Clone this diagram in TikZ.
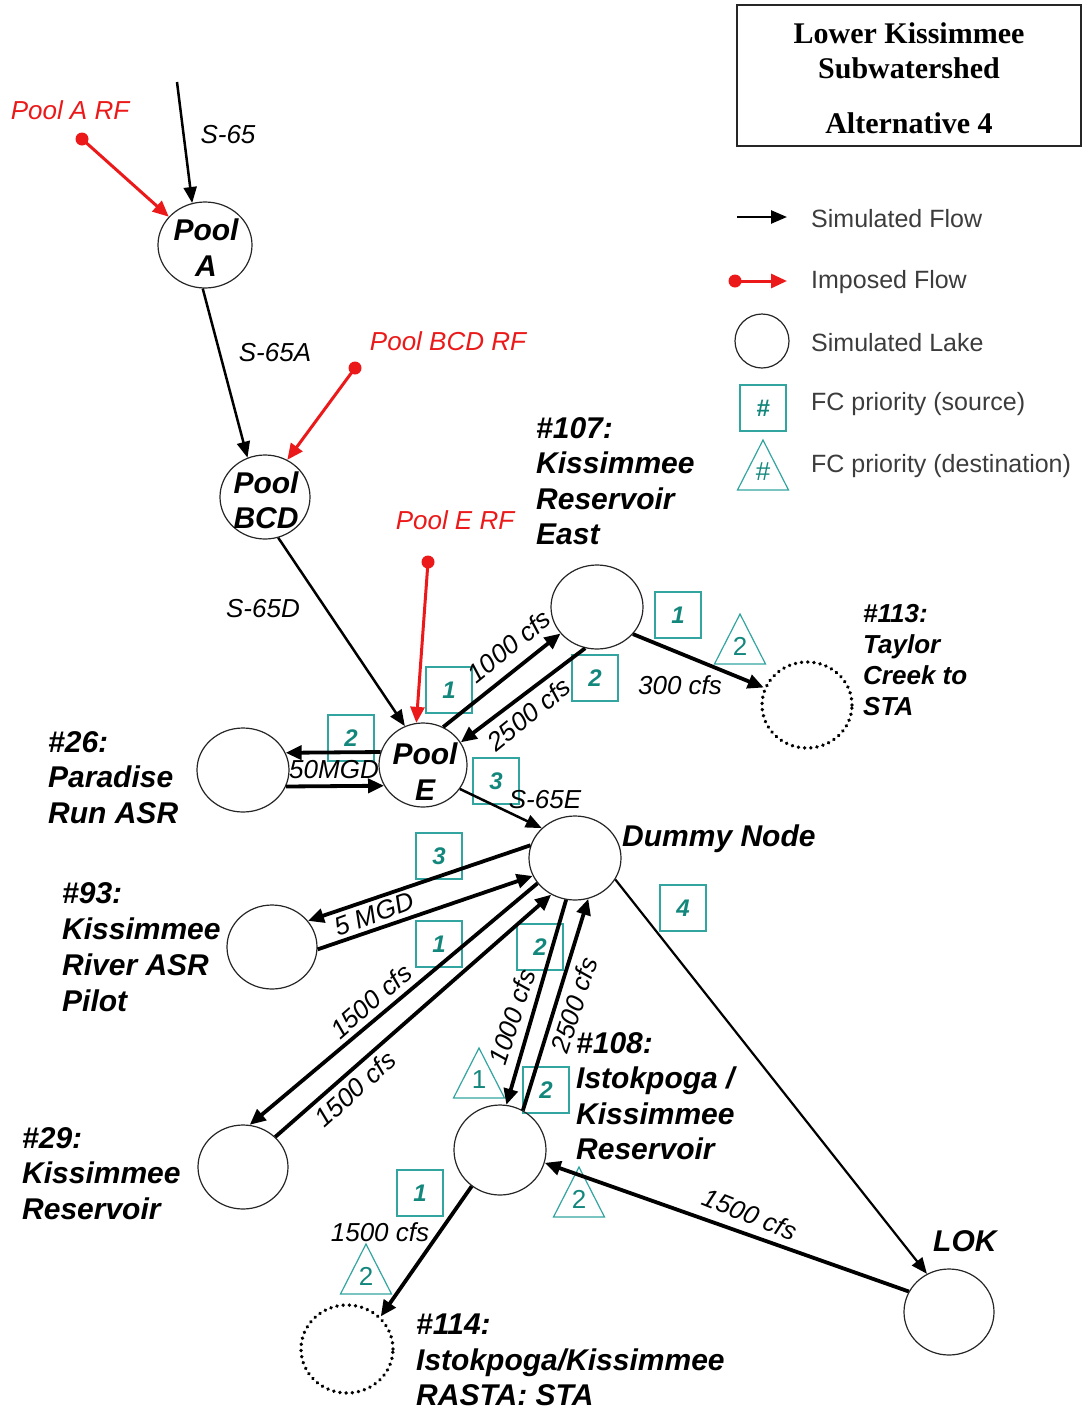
\documentclass[tikz,border=0pt]{standalone}
\usepackage{fontspec}
\setmainfont{Liberation Sans}
\newfontfamily\titlefont{Liberation Serif}
\usetikzlibrary{arrows.meta,shapes.geometric,calc}
\definecolor{tealb}{RGB}{50,165,160}
\definecolor{tealt}{RGB}{20,135,125}
\definecolor{impred}{RGB}{235,25,25}
\definecolor{leggray}{RGB}{60,60,60}
\newcommand\fctri[3]{%
  \coordinate (#1) at (#2);
  \draw[tri] ($(#1)+(0,-25)$) -- ($(#1)+(25.5,25)$) -- ($(#1)+(-25.5,25)$) -- cycle;
  \node[tritext] (#1t) at ($(#1)+(0,7)$) {#3};
}
\begin{document}
\begin{tikzpicture}[x=1pt,y=-1pt,
  lake/.style={ellipse, draw=black!85, line width=1.2pt, inner sep=0pt, minimum width=92pt, minimum height=86pt},
  stalake/.style={lake, draw=black, line width=3.8pt, dash pattern=on 0.01pt off 6.2pt, line cap=round},
  simflow/.style={draw, line width=2.5pt, -{Triangle[length=16pt,width=13pt]}},
  bigflow/.style={draw, line width=3.8pt, -{Triangle[length=16pt,width=14pt]}},
  impflow/.style={draw=impred, line width=3pt, -{Triangle[length=16pt,width=14pt]}},
  fcbox/.style={draw=tealb, line width=1.2pt, minimum width=46pt, minimum height=46pt, inner sep=0pt, text=tealt, font=\fontsize{24}{24}\selectfont\bfseries\itshape},
  tri/.style={draw=tealb, line width=1.2pt, line join=miter},
  tritext/.style={text=tealt, font=\fontsize{26}{26}\selectfont, inner sep=0pt},
  lbl/.style={font=\fontsize{30}{35.5}\selectfont\bfseries\itshape, align=left, anchor=north west, inner sep=0pt},
  pooltxt/.style={font=\fontsize{30}{36}\selectfont\bfseries\itshape, align=center, inner sep=0pt},
  flw/.style={font=\fontsize{26}{26}\selectfont\itshape, inner sep=0pt},
  rf/.style={flw, text=impred},
  legtxt/.style={font=\fontsize{25}{25}\selectfont, text=leggray, anchor=west, inner sep=0pt},
  ttl/.style={font=\fontsize{30}{30}\selectfont\titlefont\bfseries, inner sep=0pt}
]
\useasboundingbox (0,0) rectangle (1082,1411);

% title box
\draw[line width=1.3pt, draw=black!85] (737,5) rectangle (1081,146);
\node[ttl] (t1) at (909,33) {Lower Kissimmee};
\node[ttl] (t2) at (909,68) {Subwatershed};
\node[ttl] (t3) at (909,123) {Alternative 4};

% FC boxes (under arrows)
\node[fcbox] (b1) at (449,690) {1};
\node[fcbox] (b2) at (678,615) {1};
\node[fcbox] (b3) at (595,678) {2};
\node[fcbox] (b4) at (351,738) {2};
\node[fcbox] (b5) at (496,781) {3};
\node[fcbox] (b6) at (439,856) {3};
\node[fcbox] (b7) at (439,944) {1};
\node[fcbox] (b8) at (540,947) {2};
\node[fcbox] (b9) at (683,908) {4};
\node[fcbox] (b10) at (546,1090) {2};
\node[fcbox] (b11) at (420,1193) {1};

% FC triangles
\fctri{tr1}{740,639}{2}
\fctri{tr2}{479,1073}{1}
\fctri{tr3}{579,1192}{2}
\fctri{tr4}{366,1269}{2}

% lakes
\node[lake, minimum width=94pt, minimum height=86pt] (poolA) at (205,245) {};
\node[lake, minimum width=90pt, minimum height=84pt] (poolBCD) at (265,497) {};
\node[lake, minimum width=88pt, minimum height=84pt] (poolE) at (423,765) {};
\node[lake, minimum width=92pt, minimum height=84pt] (r107) at (597,607) {};
\node[stalake, minimum width=90pt, minimum height=86pt] (r113) at (807,705) {};
\node[lake, minimum width=92pt, minimum height=84pt] (r26) at (243,770) {};
\node[lake, minimum width=92pt, minimum height=84pt] (dummy) at (575,858) {};
\node[lake, minimum width=90pt, minimum height=84pt] (r93) at (272,947) {};
\node[lake, minimum width=90pt, minimum height=84pt] (r29) at (243,1167) {};
\node[lake, minimum width=92pt, minimum height=90pt] (r108) at (500,1150) {};
\node[stalake, minimum width=92pt, minimum height=88pt] (r114) at (347,1349) {};
\node[lake, minimum width=90pt, minimum height=86pt] (lok) at (949,1312) {};

\node[pooltxt] (poolAt) at (206,248) {Pool\\A};
\node[pooltxt, font=\fontsize{30}{35}\selectfont\bfseries\itshape] (poolBCDt) at (266,500) {Pool\\BCD};
\node[pooltxt] (poolEt) at (425,772) {Pool\\E};

% free ends
\coordinate (s65) at (177,82);
\coordinate (rfA) at (82,139);
\coordinate (rfBCD) at (355,368);
\coordinate (rfE) at (428,562);

% flows
\draw[simflow] (s65) -- (poolA.107);
\draw[impflow] (rfA) -- (poolA.142);
\fill[impred] (rfA) circle (6.5);
\draw[simflow] (poolA.267) -- (poolBCD.114);
\draw[impflow] (rfBCD) -- (poolBCD.59);
\fill[impred] (rfBCD) circle (6.5);
\draw[simflow] (poolBCD.288) -- (poolE.115);
\draw[impflow] (rfE) -- (poolE.99);
\fill[impred] (rfE) circle (6.5);
\draw[bigflow] (poolE.62) -- (r107.216);
\draw[bigflow] (r107.254) -- (poolE.31);
\draw[bigflow] (r107.323) -- (r113.158);
\draw[bigflow] (poolE.163) -- (r26.22);
\draw[bigflow] (r26.339) -- (poolE.208);
\draw[simflow] (poolE.327) -- (dummy.138);
\draw[bigflow] (dummy.164) -- (r93.36);
\draw[bigflow] (r93.357) -- (dummy.203);
\draw[bigflow] (dummy.214) -- (r29.81);
\draw[bigflow] (r29.43) -- (dummy.237);
\draw[bigflow] (dummy.258) -- (r108.82);
\draw[bigflow] (r108.60) -- (dummy.288);
\draw[simflow, line width=2.2pt] (dummy.332) -- (lok.120);
\draw[bigflow] (lok.153) -- (r108.344);
\draw[bigflow] (r108.232) -- (r114.44);

% structure labels
\node[flw] (ls65) at (228,135) {S-65};
\node[flw] (ls65a) at (275,353) {S-65A};
\node[flw] (ls65d) at (263,609) {S-65D};
\node[flw] (ls65e) at (545,800) {S-65E};
\node[rf] (lrfA) at (70,110) {Pool A RF};
\node[rf] (lrfBCD) at (448,341) {Pool BCD RF};
\node[rf] (lrfE) at (455,520) {Pool E RF};

% flow labels
\node[flw, rotate=39] (l1) at (509,646) {1000 cfs};
\node[flw, rotate=39] (l2) at (529,714) {2500 cfs};
\node[flw] (l3) at (680,685) {300 cfs};
\node[flw] (l4) at (334,770) {50MGD};
\node[flw, rotate=20] (l5) at (374,914) {5 MGD};
\node[flw, rotate=41] (l6) at (371,1001) {1500 cfs};
\node[flw, rotate=42] (l7) at (355,1089) {1500 cfs};
\node[flw, rotate=72] (l8) at (512,1017) {1000 cfs};
\node[flw, rotate=72] (l9) at (574,1005) {2500 cfs};
\node[flw, rotate=-22] (l10) at (750,1214) {1500 cfs};
\node[flw] (l11) at (380,1232) {1500 cfs};

% lake labels
\node[lbl] (n107) at (536,417) {\#107:\\Kissimmee\\Reservoir\\East};
\node[lbl, font=\fontsize{26}{31}\selectfont\bfseries\itshape] (n113) at (863,604) {\#113:\\Taylor\\Creek to\\STA};
\node[lbl] (n26) at (48,731) {\#26:\\Paradise\\Run ASR};
\node[lbl, font=\fontsize{30}{36}\selectfont\bfseries\itshape] (n93) at (62,882) {\#93:\\Kissimmee\\River ASR\\Pilot};
\node[lbl] (n29) at (22,1127) {\#29:\\Kissimmee\\Reservoir};
\node[lbl] (n108) at (576,1032) {\#108:\\Istokpoga /\\Kissimmee\\Reservoir};
\node[lbl] (n114) at (416,1314) {\#114:\\Istokpoga/Kissimmee\\RASTA: STA};
\node[lbl, anchor=base west] (ndummy) at (622,846) {Dummy Node};
\node[lbl, anchor=base west] (nlok) at (933,1251) {LOK};

% legend
\coordinate (lg1a) at (737,217);
\coordinate (lg1b) at (787,217);
\draw[simflow] (lg1a) -- (lg1b);
\coordinate (lg2a) at (735,281);
\coordinate (lg2b) at (787,281);
\draw[impflow] (lg2a) -- (lg2b);
\fill[impred] (lg2a) circle (6.5);
\node[lake, minimum width=54pt, minimum height=54pt] (lgl) at (762,341) {};
\node[fcbox] (lgb) at (763,408) {\#};
\fctri{lgt}{763,465}{\#}
\node[legtxt] (lt1) at (811,219) {Simulated Flow};
\node[legtxt] (lt2) at (811,282) {Imposed Flow};
\node[legtxt] (lt3) at (811,343) {Simulated Lake};
\node[legtxt] (lt4) at (811,404) {FC priority (source)};
\node[legtxt] (lt5) at (811,466) {FC priority (destination)};
\end{tikzpicture}
\end{document}
